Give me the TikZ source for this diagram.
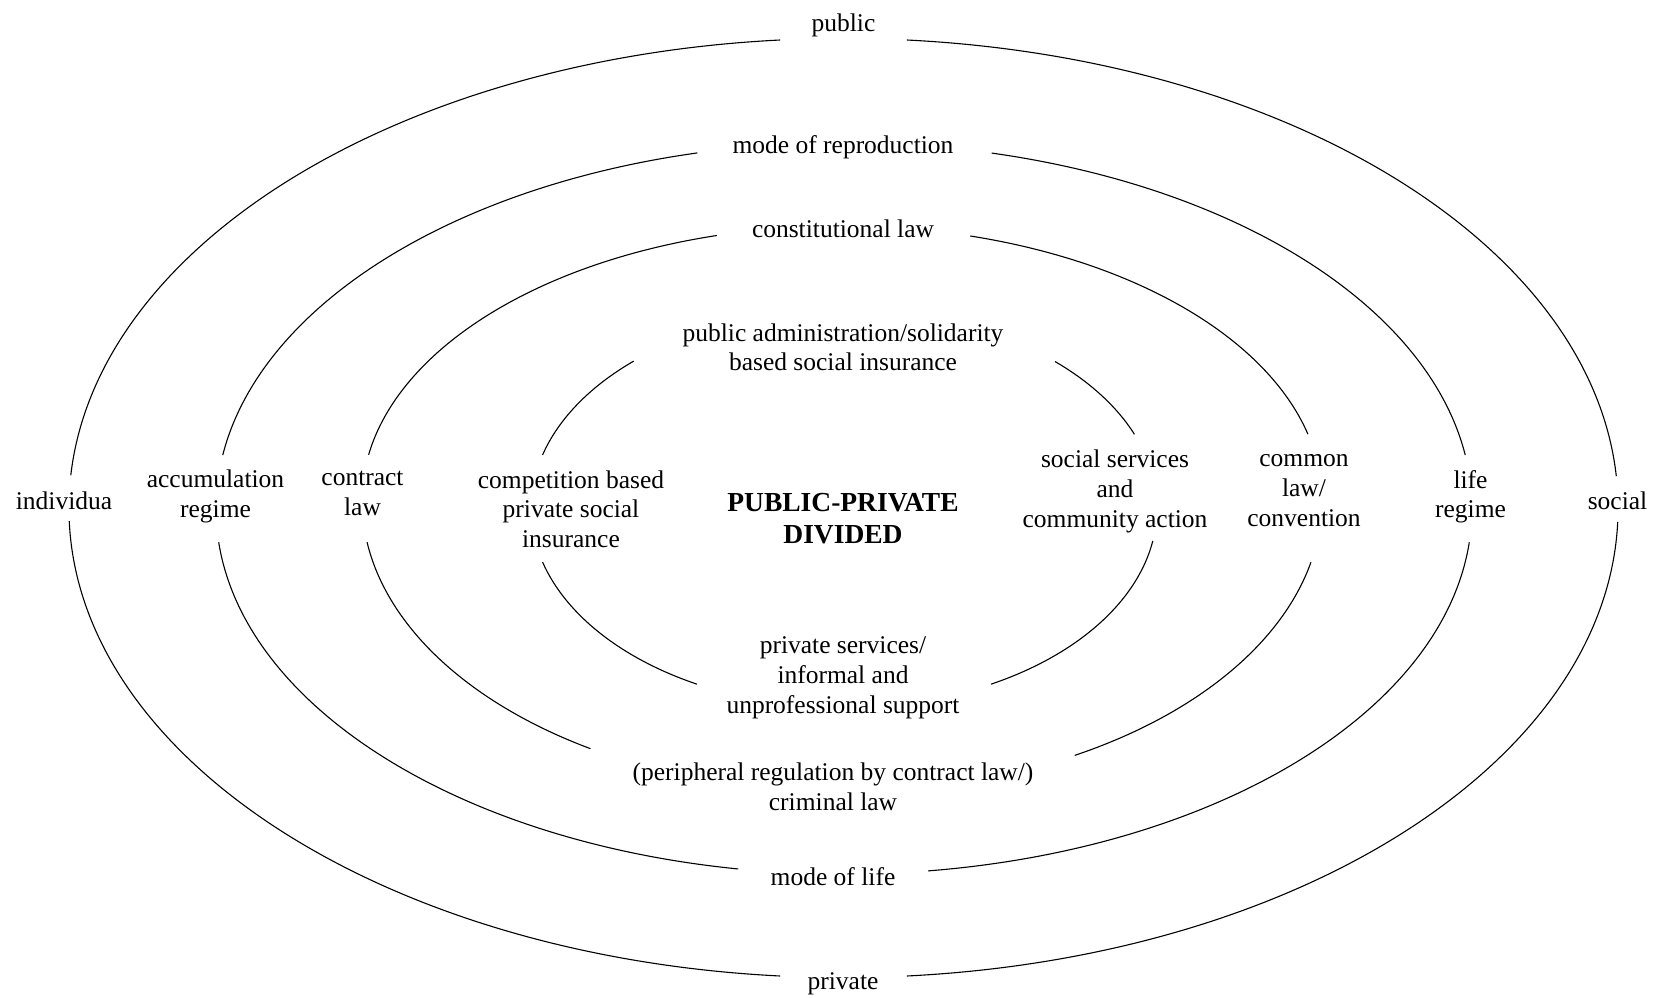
\documentclass[tikz,border=0pt]{standalone}
\usepackage{fontspec}
\setmainfont{Liberation Serif}
\tikzset{
  ring/.style={line width=1.1pt, black},
  lbl/.style={font=\fontsize{25.5}{29.6}\selectfont, align=center, inner sep=0pt,
    execute at begin node=\strut, execute at end node=\strut},
  titlelbl/.style={lbl, font=\fontsize{27.5}{31.5}\selectfont\bfseries}
}
% centre x, centre y (image, downwards), x radius, y radius, start angle, end angle
\newcommand\ellarc[6]{\draw[ring] ({#1+#3*cos(#5)},{-#2+#4*sin(#5)}) arc[start angle=#5,end angle=#6,x radius=#3pt,y radius=#4pt];}
\begin{document}
\begin{tikzpicture}[x=1pt,y=1pt]
\useasboundingbox (0,0) rectangle (1657,-998);
\fill[white] (0,0) rectangle (1657,-998);

% labels
\node[lbl] (public) at (843.5,-26) {public};
\node[lbl] (reprod) at (843,-148) {mode of reproduction};
\node[lbl] (const) at (843,-232) {constitutional law};
\node[lbl] (padmin) at (843,-351.5) {public administration/solidarity\\based social insurance};
\node[lbl] (comp) at (571,-513.5) {competition based\\private social\\insurance};
\node[titlelbl] (ppd) at (843,-523) {PUBLIC-PRIVATE\\DIVIDED};
\node[lbl] (socserv) at (1115,-493) {social services\\and\\community action};
\node[lbl] (common) at (1304,-495) {common\\law/\\convention};
\node[lbl] (liferg) at (1470.5,-498.5) {life\\regime};
\node[lbl] (social) at (1617.5,-504) {social};
\node[lbl] (indiv) at (64,-504) {individua};
\node[lbl] (accum) at (215.5,-498) {accumulation\\regime};
\node[lbl] (contract) at (362.5,-498) {contract\\law};
\node[lbl] (privserv) at (843,-679.5) {private services/\\informal and\\unprofessional support};
\node[lbl] (periph) at (833,-791) {(peripheral regulation by contract law/)\\criminal law};
\node[lbl] (modelife) at (833,-880) {mode of life};
\node[lbl] (private) at (843,-984) {private};

% outer ring
\ellarc{843.5}{508}{774.6}{469.6}{3.9}{85.3}
\ellarc{843.5}{508}{774.6}{469.6}{94.7}{176.0}
\ellarc{843.5}{508}{774.6}{469.6}{181.6}{265.3}
\ellarc{843.5}{508}{774.6}{469.6}{274.7}{358.3}
% second ring
\ellarc{844}{508.5}{628}{365.7}{8.4}{76.4}
\ellarc{844}{508.5}{628}{365.7}{103.5}{171.6}
\ellarc{844}{508.5}{628}{365.7}{185.3}{260.3}
\ellarc{844}{508.5}{628}{365.7}{277.7}{354.7}
% third ring
\ellarc{842}{500}{480}{274}{13.9}{74.5}
\ellarc{842}{500}{480}{274}{105.1}{170.5}
\ellarc{842}{500}{480}{292}{188.3}{238.4}
\ellarc{842}{500}{480}{292}{299}{347.7}
% inner ring
\ellarc{844}{508.5}{313}{199}{21.9}{47.6}
\ellarc{844}{508.5}{313}{199}{132.2}{164.4}
\ellarc{844}{508.5}{313}{199}{195.6}{242}
\ellarc{844}{508.5}{313}{199}{298}{350.6}
\end{tikzpicture}
\end{document}
